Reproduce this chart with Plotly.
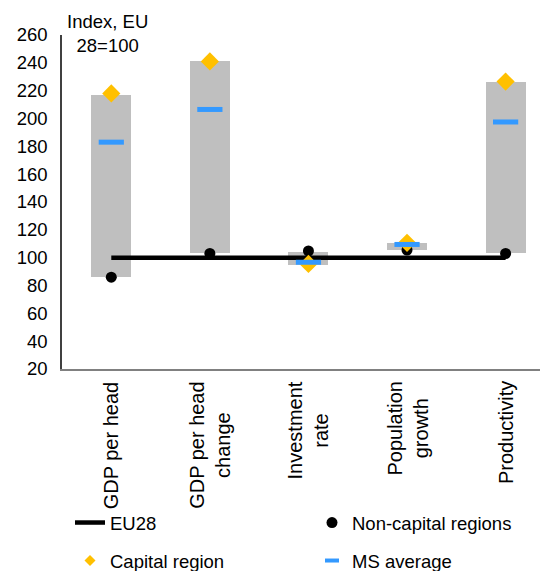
import plotly.graph_objects as go

categories = ["GDP per head", "GDP per head<br>change", "Investment<br>rate", "Population<br>growth", "Productivity"]
range_low = [86, 103, 95, 105.7, 103]
range_high = [217, 241, 104, 110.3, 226.5]
capital = [218, 241, 95.5, 110.7, 226.5]
ms_average = [183, 206.5, 96.7, 109.5, 197.5]
non_capital = [86, 103, 104.8, 105.5, 103]
eu28 = [100, 100, 100, 100, 100]

FONT = "Arial, Liberation Sans, sans-serif"
FS = 18.5
W, H = 540, 563  # page body has an 8px margin
GOLD, BLUE = "#FFC000", "#3399FF"

fig = go.Figure()
fig.add_trace(go.Bar(
    x=categories, base=range_low,
    y=[h - l for h, l in zip(range_high, range_low)],
    width=0.405, marker=dict(color="#BFBFBF", line=dict(width=0)),
    showlegend=False, hoverinfo="skip"))
fig.add_trace(go.Scatter(
    x=categories, y=eu28, mode="lines", name="EU28",
    line=dict(color="black", width=4.5), legend="legend"))
fig.add_trace(go.Scatter(
    x=categories, y=non_capital, mode="markers", name="Non-capital regions",
    marker=dict(color="black", size=11, symbol="circle"), legend="legend"))
fig.add_trace(go.Scatter(
    x=categories, y=capital, mode="markers", name="Capital region",
    marker=dict(color=GOLD, size=14, symbol="diamond"), showlegend=False))
fig.add_trace(go.Scatter(
    x=categories, y=ms_average, mode="markers", name="MS average",
    marker=dict(color=BLUE, size=18, symbol="line-ew",
                line=dict(color=BLUE, width=5)), showlegend=False))
# legend-only entries with the smaller legend symbols of the reference
fig.add_trace(go.Scatter(
    x=[None], y=[None], mode="markers", name="Capital region",
    marker=dict(color=GOLD, size=8.5, symbol="diamond"), legend="legend2"))
fig.add_trace(go.Scatter(
    x=[None], y=[None], mode="markers", name="MS average",
    marker=dict(color=BLUE, size=10, symbol="line-ew",
                line=dict(color=BLUE, width=4)), legend="legend2"))

annotations = [dict(text="Index, EU<br>28=100", xref="paper", yref="paper",
                    x=(107 - 62) / 486, y=1, xanchor="center", yanchor="bottom",
                    yshift=-23, showarrow=False, align="center",
                    font=dict(size=FS))]
for c in categories:
    annotations.append(dict(text=c, x=c, xref="x", yref="paper", y=0,
                            yshift=-10, xanchor="center", yanchor="top",
                            textangle=-90, align="center", showarrow=False,
                            font=dict(size=20)))

fig.update_layout(
    width=W, height=H,
    margin=dict(l=54, r=0, t=27, b=202, autoexpand=False),
    paper_bgcolor="white", plot_bgcolor="white",
    font=dict(family=FONT, size=FS, color="black"),
    xaxis=dict(type="category", range=[-0.5, 4.43], showgrid=False,
               showline=True, linecolor="#808080", linewidth=1.5,
               ticks="", showticklabels=False, zeroline=False),
    yaxis=dict(range=[20, 260], dtick=20, tick0=20, showgrid=False,
               showline=True, linecolor="#404040", linewidth=1.5,
               ticks="", tickfont=dict(size=FS), ticklabelstandoff=9,
               zeroline=False),
    bargap=0,
    legend=dict(orientation="h", xref="container", yref="container",
                x=62 / W, y=1 - 496 / H, xanchor="left", yanchor="top",
                entrywidth=197, font=dict(size=FS), bgcolor="rgba(0,0,0,0)",
                itemsizing="trace"),
    legend2=dict(orientation="h", xref="container", yref="container",
                 x=62 / W, y=1 - 534 / H, xanchor="left", yanchor="top",
                 entrywidth=197, font=dict(size=FS), bgcolor="rgba(0,0,0,0)",
                 itemsizing="trace"),
    annotations=annotations,
)
fig.write_html("out.html")
